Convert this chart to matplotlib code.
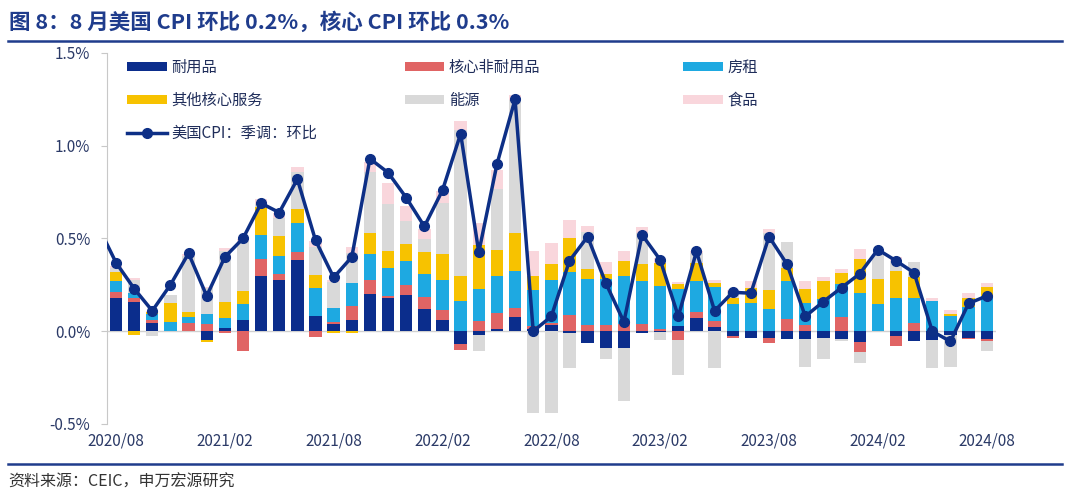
import numpy as np
import matplotlib
matplotlib.use("Agg")
import matplotlib.pyplot as plt
from matplotlib.patches import Patch
from matplotlib.lines import Line2D

plt.rcParams['font.family'] = ['Noto Sans CJK SC', 'DejaVu Sans']

# 数据（%，拉动）：2020/08 - 2024/08
meses = ['2020/08', '2020/09', '2020/10', '2020/11', '2020/12',
         '2021/01', '2021/02', '2021/03', '2021/04', '2021/05', '2021/06', '2021/07', '2021/08', '2021/09', '2021/10', '2021/11', '2021/12',
         '2022/01', '2022/02', '2022/03', '2022/04', '2022/05', '2022/06', '2022/07', '2022/08', '2022/09', '2022/10', '2022/11', '2022/12',
         '2023/01', '2023/02', '2023/03', '2023/04', '2023/05', '2023/06', '2023/07', '2023/08', '2023/09', '2023/10', '2023/11', '2023/12',
         '2024/01', '2024/02', '2024/03', '2024/04', '2024/05', '2024/06', '2024/07', '2024/08']

durable = [0.18, 0.155, 0.047, 0.0, 0.0, -0.047, 0.018, 0.06, 0.30, 0.274, 0.385, 0.08, 0.037, 0.06, 0.20, 0.177, 0.197,
           0.122, 0.06, -0.07, -0.022, 0.014, 0.075, 0.01, 0.034, -0.01, -0.063, -0.093, -0.088,
           -0.01, -0.005, 0.03, 0.073, 0.023, -0.025, -0.034, -0.034, -0.043, -0.043, -0.034, -0.043,
           -0.057, 0.0, -0.025, -0.05, -0.047, -0.02, -0.034, -0.04]
nondurable = [0.03, 0.025, 0.014, 0.0, 0.043, 0.037, -0.01, -0.104, 0.088, 0.032, 0.04, -0.03, 0.012, 0.075, 0.075, 0.013, 0.052,
              0.065, 0.054, -0.03, 0.055, 0.086, 0.052, 0.02, 0.01, 0.088, 0.036, 0.032, 0.037,
              0.037, 0.01, -0.047, 0.03, 0.032, -0.01, 0.0, -0.027, 0.068, 0.032, 0.0, 0.079,
              -0.054, 0.0, -0.054, 0.043, 0.0, 0.0, -0.01, -0.014]
rent = [0.06, 0.027, 0.03, 0.05, 0.036, 0.054, 0.052, 0.086, 0.13, 0.10, 0.158, 0.152, 0.075, 0.125, 0.14, 0.152, 0.129,
        0.12, 0.16, 0.163, 0.175, 0.197, 0.20, 0.19, 0.23, 0.233, 0.244, 0.247, 0.263,
        0.233, 0.236, 0.20, 0.167, 0.185, 0.145, 0.154, 0.118, 0.205, 0.118, 0.172, 0.174,
        0.208, 0.145, 0.177, 0.136, 0.163, 0.082, 0.133, 0.19]
other_services = [0.05, -0.02, 0.012, 0.10, 0.025, -0.012, 0.09, 0.072, 0.15, 0.108, 0.074, 0.073, -0.012, -0.012, 0.116, 0.09, 0.09,
                  0.122, 0.143, 0.134, 0.236, 0.14, 0.20, 0.077, 0.09, 0.18, 0.054, 0.027, 0.077,
                  0.09, 0.12, 0.023, 0.10, 0.02, 0.036, 0.08, 0.104, 0.068, 0.08, 0.10, 0.06,
                  0.183, 0.134, 0.147, 0.115, 0.0, 0.01, 0.048, 0.05]
energy = [0.02, 0.07, -0.025, 0.043, 0.30, 0.14, 0.27, 0.27, 0.02, 0.095, 0.20, 0.15, 0.14, 0.16, 0.33, 0.255, 0.125,
          0.066, 0.274, 0.79, -0.086, 0.33, 0.72, -0.443, -0.443, -0.186, 0.20, -0.054, -0.29,
          0.17, -0.04, -0.19, 0.05, -0.20, 0.03, 0.0, 0.31, 0.14, -0.15, -0.113, -0.01,
          -0.06, 0.134, 0.054, 0.079, -0.15, -0.175, 0.0, -0.052]
food = [0.01, 0.01, 0.005, 0.0, 0.01, 0.01, 0.02, 0.01, 0.025, 0.027, 0.027, 0.03, 0.01, 0.035, 0.05, 0.11, 0.084,
        0.054, 0.063, 0.048, 0.116, 0.10, 0.027, 0.138, 0.113, 0.10, 0.036, 0.068, 0.054,
        0.03, 0.03, 0.013, 0.01, 0.018, 0.01, 0.036, 0.02, 0.0, 0.04, 0.018, 0.02,
        0.05, 0.0, 0.023, 0.0, 0.018, 0.023, 0.027, 0.018]
# 美国CPI：季调：环比（首个值为 2020/07）
cpi_jul2020 = 0.57
cpi = [0.37, 0.23, 0.11, 0.25, 0.42, 0.19, 0.40, 0.50, 0.69, 0.64, 0.82, 0.49, 0.29, 0.40, 0.93, 0.855, 0.72,
       0.565, 0.76, 1.065, 0.425, 0.90, 1.25, 0.0, 0.08, 0.38, 0.51, 0.26, 0.05,
       0.52, 0.385, 0.08, 0.43, 0.11, 0.21, 0.205, 0.51, 0.36, 0.08, 0.16, 0.235,
       0.31, 0.44, 0.38, 0.315, 0.0, -0.055, 0.15, 0.19]

series = [('耐用品', durable, '#0b2d8c'),
          ('核心非耐用品', nondurable, '#e06464'),
          ('房租', rent, '#1ea9e1'),
          ('其他核心服务', other_services, '#f7c200'),
          ('能源', energy, '#d9d9d9'),
          ('食品', food, '#f9d6dc')]

navy = '#0d2f86'
tick_color = '#2b3a67'

x = np.arange(len(meses))

fig = plt.figure(figsize=(10.8, 4.98), dpi=100)
ax = fig.add_axes([0.099, 0.1486, 0.823, 0.745])

pos_base = np.zeros(len(x))
neg_base = np.zeros(len(x))
for nome, vals, cor in series:
    v = np.array(vals)
    pos = np.where(v > 0, v, 0)
    neg = np.where(v < 0, v, 0)
    ax.bar(x, pos, bottom=pos_base, width=0.68, color=cor, zorder=2)
    ax.bar(x, neg, bottom=neg_base, width=0.68, color=cor, zorder=2)
    pos_base += pos
    neg_base += neg

ax.axhline(0, color='#d0d0d0', lw=1.0, zorder=1)

x_line = np.concatenate([[-1], x])
y_line = np.concatenate([[cpi_jul2020], cpi])
ax.plot(x_line, y_line, color=navy, lw=2.5, marker='o', markersize=7, zorder=3, clip_on=True)

ax.set_xlim(-0.5, len(x) - 0.5)
ax.set_ylim(-0.5, 1.5)
ax.set_yticks([-0.5, 0.0, 0.5, 1.0, 1.5])
ax.set_yticklabels([f'{v:.1f}%' for v in [-0.5, 0.0, 0.5, 1.0, 1.5]])
ax.set_xticks(x[::6])
ax.set_xticklabels(meses[::6])
ax.tick_params(axis='y', colors='#c8c8c8', labelcolor=tick_color, labelsize=11, length=4, pad=8)
ax.tick_params(axis='x', length=0, labelcolor=tick_color, labelsize=11, pad=6)
for lado in ['top', 'right', 'bottom']:
    ax.spines[lado].set_visible(False)
ax.spines['left'].set_color('#c8c8c8')

# Legenda em três colunas
def patch(cor):
    return Patch(facecolor=cor, edgecolor='none')

leg_kw = dict(frameon=False, fontsize=11, handlelength=2.6, handleheight=0.55,
              labelspacing=1.05, handletextpad=0.3, borderaxespad=0, borderpad=0,
              labelcolor='#1f2d5a')
cpi_handle = Line2D([], [], color=navy, lw=2.5, marker='o', markersize=7)
leg1 = ax.legend([patch(series[0][2]), patch(series[3][2]), cpi_handle],
                 ['耐用品', '其他核心服务', '美国CPI：季调：环比'],
                 loc='upper left', bbox_to_anchor=(0.0225, 0.985), **leg_kw)
ax.add_artist(leg1)
leg2 = ax.legend([patch(series[1][2]), patch(series[4][2])], ['核心非耐用品', '能源'],
                 loc='upper left', bbox_to_anchor=(0.335, 0.985), **leg_kw)
ax.add_artist(leg2)
ax.legend([patch(series[2][2]), patch(series[5][2])], ['房租', '食品'],
          loc='upper left', bbox_to_anchor=(0.648, 0.985), **leg_kw)

# Título, linhas e fonte
fig.text(0.008, 0.955, '图 8：8 月美国 CPI 环比 0.2%，核心 CPI 环比 0.3%', fontsize=15.5,
         fontweight='bold', color='#1f3c8c', va='center', ha='left')
fig.add_artist(Line2D([0.007, 0.983], [0.918, 0.918], color='#1f3c8c', lw=1.8))
fig.add_artist(Line2D([0.007, 0.983], [0.068, 0.068], color='#1f3c8c', lw=1.8))
fig.text(0.008, 0.032, '资料来源：CEIC，申万宏源研究', fontsize=11.5, color='#333333',
         va='center', ha='left')

fig.savefig('out.png', dpi=100, facecolor='white')
